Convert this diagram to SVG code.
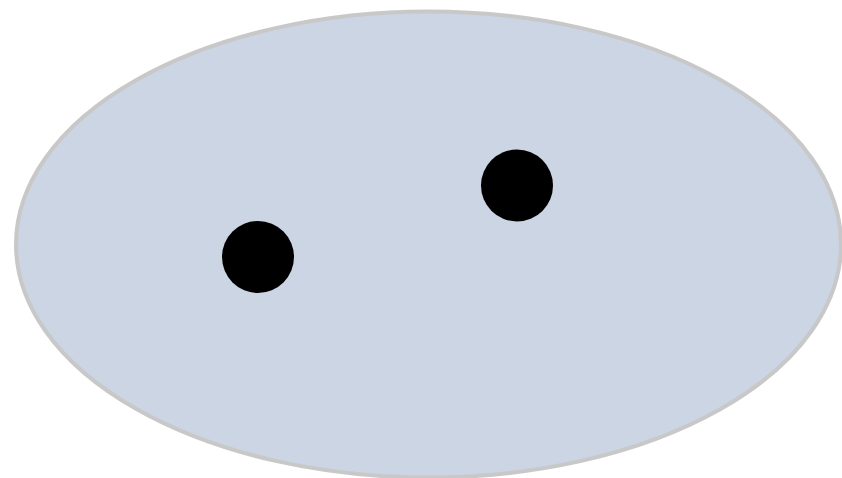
<svg xmlns="http://www.w3.org/2000/svg" width="842" height="478" viewBox="0 0 842 478">
<style>
.region{fill:#cbd5e3;stroke:#c8c8c8;stroke-width:4}
.dot{fill:#000000}
</style>
<rect width="842" height="478" fill="#ffffff"/>
<g id="region"><ellipse class="region" cx="428.5" cy="244.5" rx="412.5" ry="233"/></g>
<g id="connectors"></g>
<g id="dot1"><circle class="dot" cx="258" cy="257" r="36"/></g>
<g id="dot2"><circle class="dot" cx="517" cy="185.5" r="36"/></g>
</svg>
